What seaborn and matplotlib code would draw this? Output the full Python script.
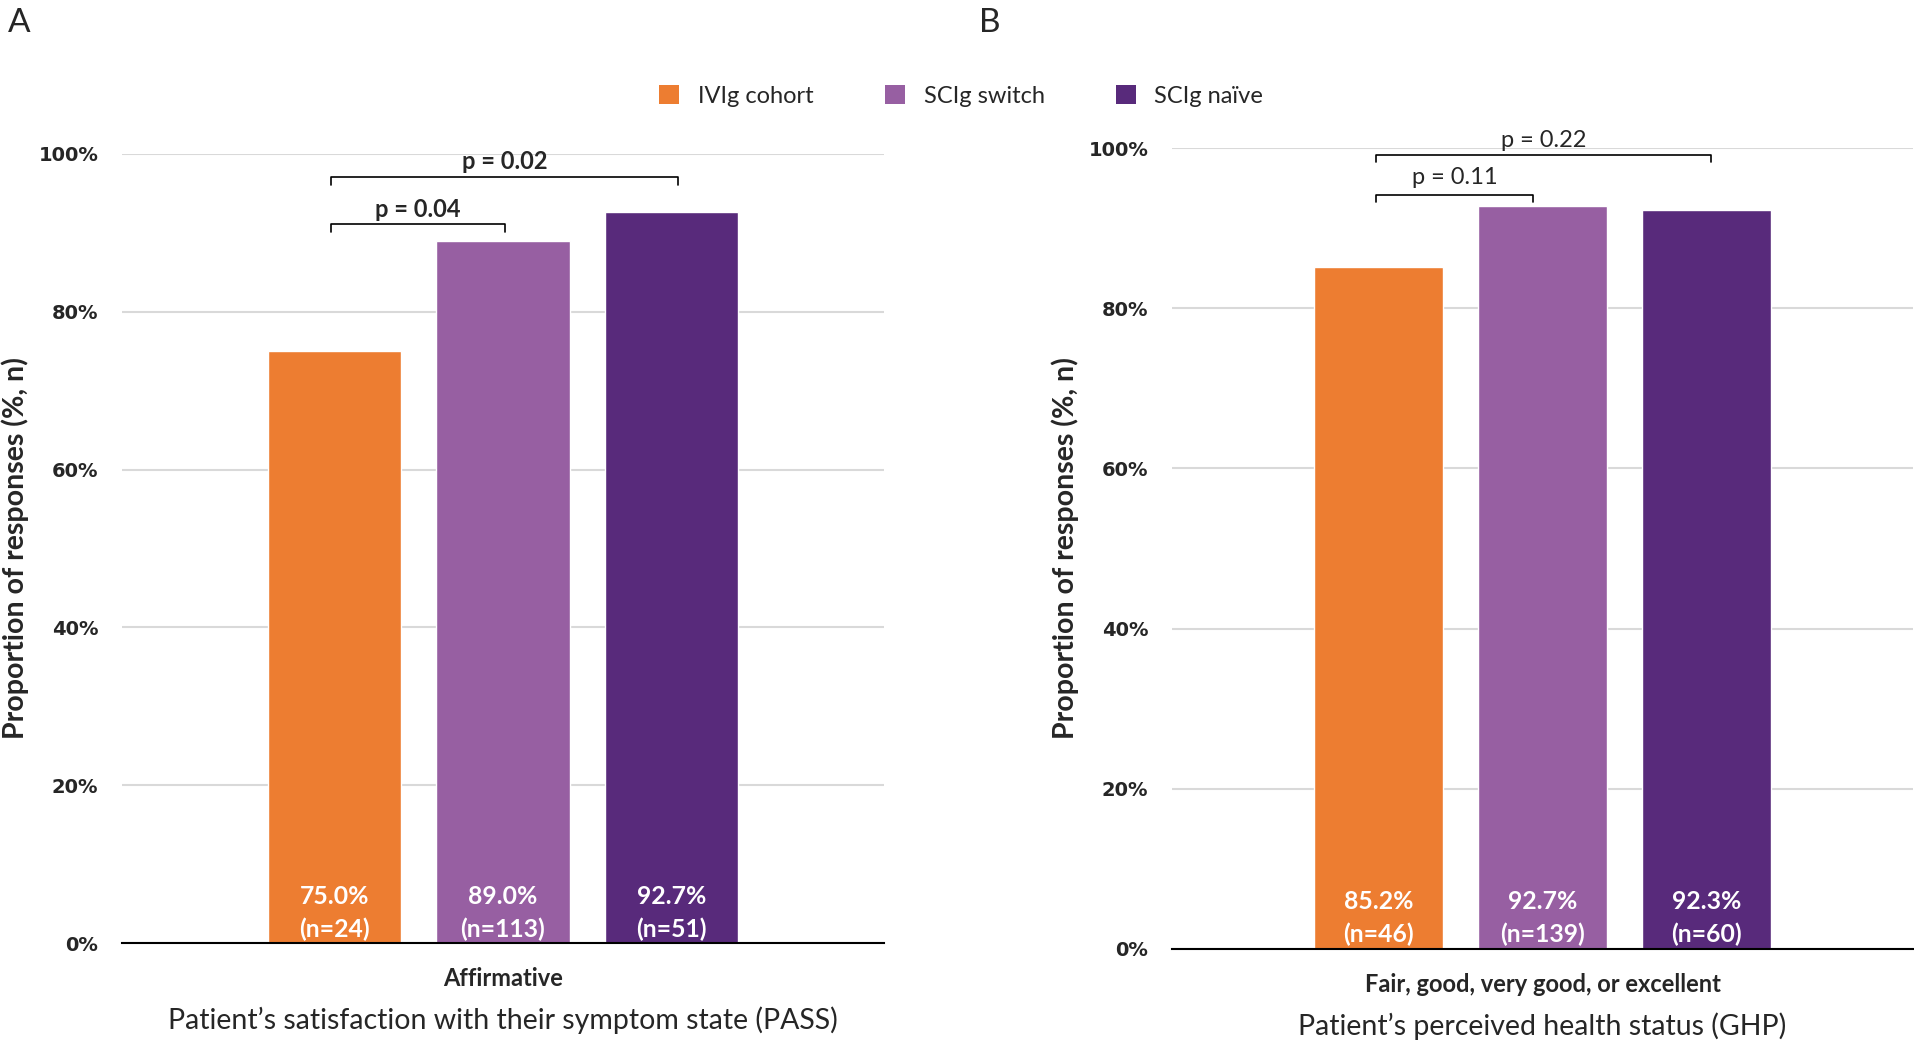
import matplotlib
matplotlib.use('Agg')
import matplotlib.pyplot as plt
from matplotlib.patches import Patch
import seaborn as sns
import pandas as pd

# ─── Data ────────────────────────────────────────────────────────────────
groups = ["IVIg cohort", "SCIg switch", "SCIg naïve"]
colors = ["#ED7D31", "#975FA2", "#582A7B"]

pass_pct = [75.0, 89.0, 92.7]
pass_n = [24, 113, 51]
ghp_pct = [85.2, 92.7, 92.3]
ghp_n = [46, 139, 60]

pass_pvals = ["p = 0.04", "p = 0.02"]
ghp_pvals = ["p = 0.11", "p = 0.22"]

yticks = [0, 20, 40, 60, 80, 100]
ytick_labels = ["0%", "20%", "40%", "60%", "80%", "100%"]

# ─── Style ───────────────────────────────────────────────────────────────
sns.set_theme(style="white")
plt.rcParams['font.family'] = ['Lato', 'DejaVu Sans']

fig = plt.figure(figsize=(19.15, 10.41), dpi=100)
ax_a = fig.add_axes([0.0637, 0.0941, 0.3979, 0.7580])
ax_b = fig.add_axes([0.6120, 0.0884, 0.3870, 0.7694])


def draw_panel(ax, pct, n, cat_label, xlabel):
    df = pd.DataFrame({"group": groups, "pct": pct, "n": n})
    sns.barplot(data=df, x="group", y="pct", hue="group", palette=colors,
                width=0.79, dodge=False, legend=False, saturation=1, ax=ax)
    ax.set_xlim(1 - 2.26, 1 + 2.26)
    ax.set_ylim(0, 100)
    ax.set_yticks(yticks)
    ax.set_yticklabels(ytick_labels, fontfamily='DejaVu Sans',
                       fontweight='bold', fontsize=14)
    ax.tick_params(axis='y', length=0, pad=17)
    ax.set_xticks([1])
    ax.set_xticklabels([cat_label], fontweight='bold', fontsize=17)
    ax.tick_params(axis='x', length=0, pad=17)
    ax.set_xlabel(xlabel, fontsize=20.5, labelpad=12)
    ax.set_ylabel("Proportion of responses (%, n)", fontsize=20.5,
                  fontweight='bold', labelpad=7)
    ax.grid(axis='y', color='#d9d9d9', linewidth=1.5)
    ax.set_axisbelow(True)
    for s in ['top', 'right', 'left']:
        ax.spines[s].set_visible(False)
    ax.spines['bottom'].set_color('black')
    ax.spines['bottom'].set_linewidth(1.5)
    ax.spines['bottom'].set_zorder(5)
    # labels inside bars
    for i, (v, k) in enumerate(zip(pct, n)):
        ax.text(i, 5.9, f"{v:.1f}%", ha='center', va='center',
                color='white', fontsize=17.8, fontweight='bold')
        ax.text(i, 1.8, f"(n={k})", ha='center', va='center',
                color='white', fontsize=17.8, fontweight='bold')


def bracket(ax, x1, x2, y, h, text, ty, bold):
    ax.plot([x1, x1, x2, x2], [y - h, y, y, y - h], color='black',
            linewidth=1.2, clip_on=False)
    ax.text((x1 + x2) / 2, ty, text, ha='center', va='center', fontsize=17,
            fontweight='bold' if bold else 'normal', clip_on=False)


draw_panel(ax_a, pass_pct, pass_n, "Affirmative",
           "Patient\u2019s satisfaction with their symptom state (PASS)")
draw_panel(ax_b, ghp_pct, ghp_n, "Fair, good, very good, or excellent",
           "Patient\u2019s perceived health status (GHP)")

bracket(ax_a, -0.02, 1.01, 91.1, 1.0, pass_pvals[0], 92.9, True)
bracket(ax_a, -0.02, 2.04, 97.1, 1.0, pass_pvals[1], 99.0, True)
bracket(ax_b, -0.015, 0.94, 94.1, 0.9, ghp_pvals[0], 96.3, False)
bracket(ax_b, -0.015, 2.03, 99.1, 0.9, ghp_pvals[1], 101.0, False)

# legend
handles = [Patch(facecolor=c, edgecolor='none') for c in colors]
fig.legend(handles, groups, loc='center', bbox_to_anchor=(0.502, 0.908),
           ncol=3, frameon=False, fontsize=17, handlelength=0.85,
           handleheight=0.85, handletextpad=0.8, columnspacing=3.0)

fig.text(0.004, 0.992, "A", fontsize=24, va='top', ha='left')
fig.text(0.511, 0.992, "B", fontsize=24, va='top', ha='left')

fig.savefig("out.png", dpi=100)
